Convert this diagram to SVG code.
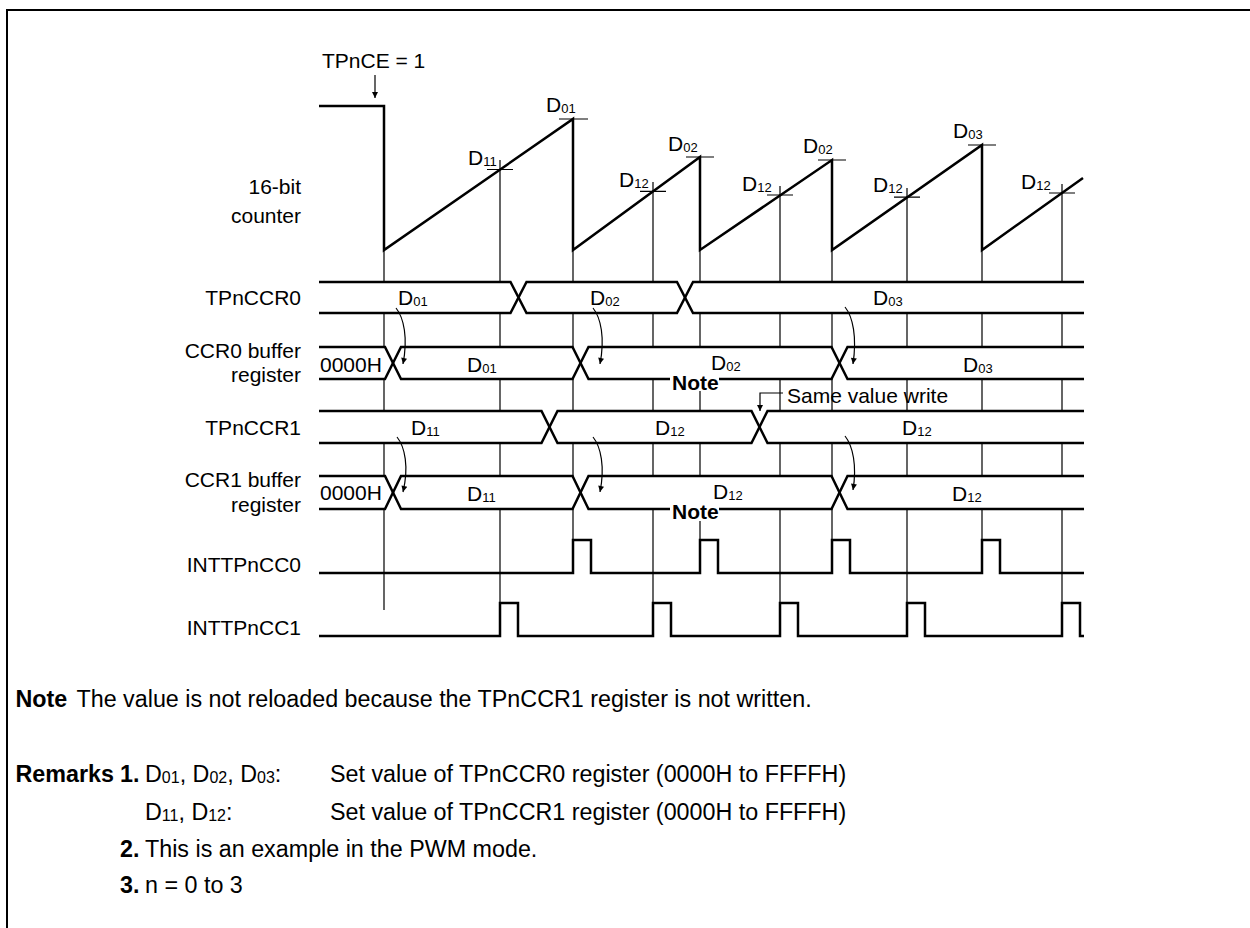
<svg xmlns="http://www.w3.org/2000/svg" width="1250" height="928" viewBox="0 0 1250 928">
<style>
text{font-family:"Liberation Sans",Arial,Helvetica,sans-serif;fill:#000}
.l{font-size:21px}
.r{text-anchor:end}
.sub{font-size:13px}
.bd{font-weight:bold}
.ft{font-size:23.3px}
.fsub{font-size:16px}
.w{fill:none;stroke:#000;stroke-width:2.5;stroke-linejoin:miter;stroke-linecap:butt}
.g{fill:none;stroke:#000;stroke-width:1.2}
.a{fill:none;stroke:#000;stroke-width:1.2;marker-end:url(#ah)}
.frame{fill:none;stroke:#000;stroke-width:2}
</style>
<defs>
<marker id="ah" viewBox="0 0 10 10" refX="10" refY="5" markerWidth="9" markerHeight="6" orient="auto" markerUnits="userSpaceOnUse"><path d="M0,0 L10,5 L0,10 z" fill="#000"/></marker>
</defs>
<rect width="1250" height="928" fill="#fff"/>
<path class="frame" d="M7,928 V10 H1250"/>

<g id="grid">
<path class="g" d="M384,250 V282 M384,313 V347 M384,379 V411 M384,443 V476 M384,509 V610"/>
<path class="g" d="M500,160 V282 M500,313 V347 M500,379 V411 M500,443 V476 M500,509 V603"/>
<path class="g" d="M573,250 V282 M573,313 V347 M573,379 V411 M573,443 V476 M573,509 V540"/>
<path class="g" d="M653,182 V282 M653,313 V347 M653,379 V411 M653,443 V476 M653,509 V603"/>
<path class="g" d="M700,250 V282 M700,313 V347 M700,391 V411 M700,443 V476 M700,521 V540"/>
<path class="g" d="M780,186 V282 M780,313 V347 M780,379 V411 M780,443 V476 M780,509 V603"/>
<path class="g" d="M832,250 V282 M832,313 V347 M832,379 V411 M832,443 V476 M832,509 V540"/>
<path class="g" d="M907,188 V282 M907,313 V347 M907,379 V411 M907,443 V476 M907,509 V603"/>
<path class="g" d="M982,250 V282 M982,313 V347 M982,379 V411 M982,443 V476 M982,509 V540"/>
<path class="g" d="M1062,184 V282 M1062,313 V347 M1062,379 V411 M1062,443 V476 M1062,509 V603"/>
</g>

<g id="counter">
<text class="l r" x="301" y="194">16-bit</text>
<text class="l r" x="301" y="223">counter</text>
<path class="w" d="M319,106 H384 V250 L573,119 V250 L700,157 V250 L832,160 V250 L982,145 V250 L1083,178"/>
<path class="g" d="M559,119 H588 M686,157 H714 M818,160 H846 M968,145 H996"/>
<path class="g" d="M487,169.5 H513 M640,191.4 H666 M767,195 H793 M894,197.2 H920 M1049,193 H1075"/>
<text class="l" x="546" y="112">D<tspan class="sub" dy="1">01</tspan></text>
<text class="l" x="468" y="165">D<tspan class="sub" dy="1">11</tspan></text>
<text class="l" x="668" y="151">D<tspan class="sub" dy="1">02</tspan></text>
<text class="l" x="619" y="187">D<tspan class="sub" dy="1">12</tspan></text>
<text class="l" x="742" y="191">D<tspan class="sub" dy="1">12</tspan></text>
<text class="l" x="803" y="153">D<tspan class="sub" dy="1">02</tspan></text>
<text class="l" x="873" y="192">D<tspan class="sub" dy="1">12</tspan></text>
<text class="l" x="953" y="138">D<tspan class="sub" dy="1">03</tspan></text>
<text class="l" x="1021" y="189">D<tspan class="sub" dy="1">12</tspan></text>
</g>

<g id="tpnce">
<text class="l" x="322" y="68">TPnCE = 1</text>
<path class="a" d="M375,75 V98"/>
</g>

<g id="tpnccr0">
<text class="l r" x="301" y="305">TPnCCR0</text>
<path class="w" d="M319,282 H510.5 L526.5,313 H677 L693,282 H1084"/>
<path class="w" d="M319,313 H510.5 L526.5,282 H677 L693,313 H1084"/>
<text class="l" x="398" y="305">D<tspan class="sub" dy="1">01</tspan></text>
<text class="l" x="590" y="305">D<tspan class="sub" dy="1">02</tspan></text>
<text class="l" x="873" y="305">D<tspan class="sub" dy="1">03</tspan></text>
</g>

<g id="ccr0buf">
<text class="l r" x="301" y="358">CCR0 buffer</text>
<text class="l r" x="301" y="382">register</text>
<path class="w" d="M319,347 H385 L401,379 H572.5 L588.5,347 H831.5 L847.5,379 H1084"/>
<path class="w" d="M319,379 H385 L401,347 H572.5 L588.5,379 H670 M719,379 H831.5 L847.5,347 H1084"/>
<text class="l" x="320" y="372">0000H</text>
<text class="l" x="467" y="372">D<tspan class="sub" dy="1">01</tspan></text>
<text class="l" x="711" y="370">D<tspan class="sub" dy="1">02</tspan></text>
<text class="l" x="963" y="372">D<tspan class="sub" dy="1">03</tspan></text>
<text class="l bd" x="672" y="390">Note</text>
</g>

<g id="tpnccr1">
<text class="l r" x="301" y="435">TPnCCR1</text>
<path class="w" d="M319,411 H541.5 L557.5,443 H751.5 L767.5,411 H1084"/>
<path class="w" d="M319,443 H541.5 L557.5,411 H751.5 L767.5,443 H1084"/>
<text class="l" x="411" y="435">D<tspan class="sub" dy="1">11</tspan></text>
<text class="l" x="655" y="435">D<tspan class="sub" dy="1">12</tspan></text>
<text class="l" x="902" y="435">D<tspan class="sub" dy="1">12</tspan></text>
</g>

<g id="samewrite">
<text class="l" x="787" y="403">Same value write</text>
<path class="a" d="M783,393 H760 V411"/>
</g>

<g id="ccr1buf">
<text class="l r" x="301" y="487">CCR1 buffer</text>
<text class="l r" x="301" y="512">register</text>
<path class="w" d="M319,476 H385 L401,509 H572.5 L588.5,476 H831.5 L847.5,509 H1084"/>
<path class="w" d="M319,509 H385 L401,476 H572.5 L588.5,509 H670 M719,509 H831.5 L847.5,476 H1084"/>
<text class="l" x="320" y="500">0000H</text>
<text class="l" x="467" y="501">D<tspan class="sub" dy="1">11</tspan></text>
<text class="l" x="713" y="499">D<tspan class="sub" dy="1">12</tspan></text>
<text class="l" x="952" y="501">D<tspan class="sub" dy="1">12</tspan></text>
<text class="l bd" x="672" y="519">Note</text>
</g>

<g id="connectors">
<path class="a" d="M396,308 C404,318 408,338 403,364"/>
<path class="a" d="M593,308 C601,318 605,338 600,364"/>
<path class="a" d="M845,307 C853,317 857,337 853,364"/>
<path class="a" d="M397,437 C405,447 409,467 403,492"/>
<path class="a" d="M593,437 C601,447 605,467 600,492"/>
<path class="a" d="M845,436 C853,446 857,466 853,490"/>
</g>

<g id="inttpncc0">
<text class="l r" x="301" y="572">INTTPnCC0</text>
<path class="w" d="M319,573 H573 V540 H591 V573 H700 V540 H718 V573 H832 V540 H850 V573 H982 V540 H1000 V573 H1084"/>
</g>

<g id="inttpncc1">
<text class="l r" x="301" y="635">INTTPnCC1</text>
<path class="w" d="M319,636 H500 V603 H518 V636 H653 V603 H671 V636 H780 V603 H798 V636 H907 V603 H925 V636 H1062 V603 H1080 V636 H1084"/>
</g>

<g id="notes">
<text class="ft bd" x="15.5" y="707">Note</text>
<text class="ft" x="76.5" y="707">The value is not reloaded because the TPnCCR1 register is not written.</text>
<text class="ft bd" x="15.5" y="782">Remarks</text>
<text class="ft bd" x="120" y="782">1.</text>
<text class="ft" x="145" y="782">D<tspan class="fsub" dy="1">01</tspan><tspan dy="-1">, D</tspan><tspan class="fsub" dy="1">02</tspan><tspan dy="-1">, D</tspan><tspan class="fsub" dy="1">03</tspan><tspan dy="-1">:</tspan></text>
<text class="ft" x="330" y="782">Set value of TPnCCR0 register (0000H to FFFFH)</text>
<text class="ft" x="145" y="820">D<tspan class="fsub" dy="1">11</tspan><tspan dy="-1">, D</tspan><tspan class="fsub" dy="1">12</tspan><tspan dy="-1">:</tspan></text>
<text class="ft" x="330" y="820">Set value of TPnCCR1 register (0000H to FFFFH)</text>
<text class="ft bd" x="120" y="857">2.</text>
<text class="ft" x="145" y="857">This is an example in the PWM mode.</text>
<text class="ft bd" x="120" y="893">3.</text>
<text class="ft" x="145" y="893">n = 0 to 3</text>
</g>
</svg>
